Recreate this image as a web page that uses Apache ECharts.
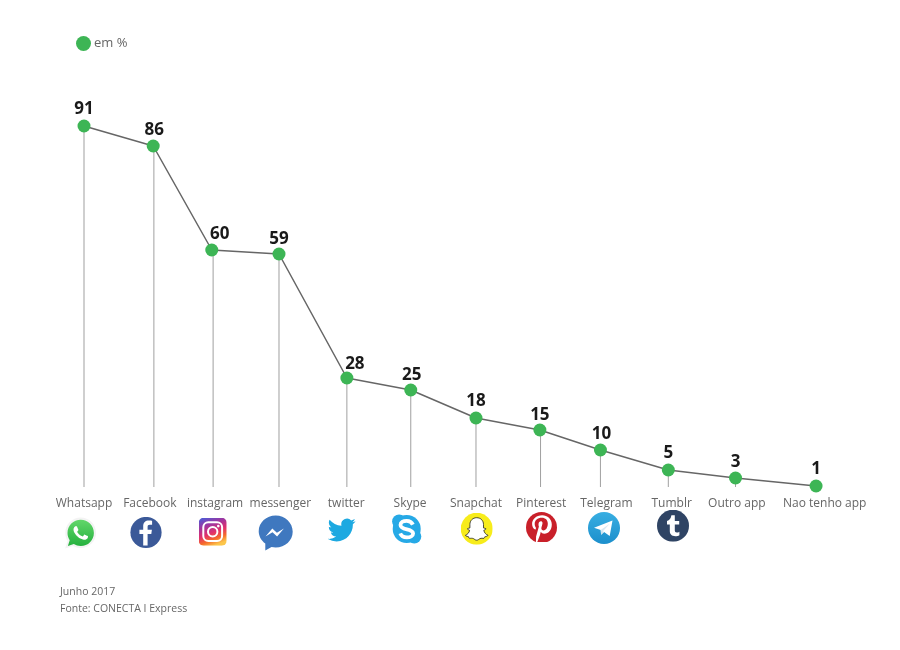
<!DOCTYPE html>
<html><head><meta charset="utf-8">
<style>html,body{margin:0;background:#fff}#c{width:900px;height:650px}</style>
<script src="https://cdn.jsdelivr.net/npm/echarts@6/dist/echarts.min.js"></script></head>
<body><div id="c"></div>
<script>
const categories=['Whatsapp','Facebook','instagram','messenger','twitter','Skype','Snapchat','Pinterest','Telegram','Tumblr','Outro app','Nao tenho app'];
const values=[91,86,60,59,28,25,18,15,10,5,3,1];
// horizontal place of each point, drop line and name, in axis units (the source is not evenly spaced)
const pointAt=[0,1.04,1.92,2.93,3.95,4.91,5.89,6.85,7.76,8.78,9.79,11];
const dropAt=[0,1.05,1.94,2.93,3.95,4.91,5.89,6.86,7.76,8.78,9.79];
const nameAt=[0,0.99,1.97,2.95,3.94,4.9,5.89,6.87,7.85,8.83,9.81,11.13];
const dropValues=values.slice(0,11);
const seriesName='em %';
const notes=['Junho 2017','Fonte: CONECTA I Express'];

const GREEN='#3db555';
const svg=(w,h,vb,body)=>'data:image/svg+xml;charset=utf-8,'+encodeURIComponent(`<svg xmlns="http://www.w3.org/2000/svg" width="${w*3}" height="${h*3}" viewBox="${vb}">${body}</svg>`);
const icons=[
 {cx:80.7,cy:533,s:36,body:`<path d="M18 2.6C9.4 2.6 2.6 9.5 2.6 18c0 3 .8 5.6 2.3 8L2.4 33.4l7.8-2.4c2.3 1.3 5 2 7.8 2 8.5 0 15.4-6.8 15.4-15.2S26.5 2.6 18 2.6z" fill="#f3f3f3"/><defs><linearGradient id="g" x1="0" y1="0" x2="0" y2="1"><stop offset="0" stop-color="#62d66a"/><stop offset="1" stop-color="#25b13e"/></linearGradient></defs><path d="M18 4.8C10.7 4.8 4.8 10.6 4.8 18c0 2.7.8 5.1 2.2 7.2L5.2 30.9l5.9-1.8c2 1.3 4.4 2 6.9 2 7.3 0 13.2-5.8 13.2-13.1S25.3 4.8 18 4.8z" fill="url(#g)"/><g transform="translate(3.6 3.6) scale(1.2)"><path d="M17.472 14.382c-.297-.149-1.758-.867-2.03-.967-.273-.099-.471-.148-.67.15-.197.297-.767.966-.94 1.164-.173.199-.347.223-.644.075-.297-.15-1.255-.463-2.39-1.475-.883-.788-1.48-1.761-1.653-2.059-.173-.297-.018-.458.13-.606.134-.133.298-.347.446-.52.149-.174.198-.298.298-.497.099-.198.05-.371-.025-.52-.075-.149-.669-1.612-.916-2.207-.242-.579-.487-.5-.669-.51-.173-.008-.371-.01-.57-.01-.198 0-.52.074-.792.372-.272.297-1.04 1.016-1.04 2.479 0 1.462 1.065 2.875 1.213 3.074.149.198 2.096 3.2 5.077 4.487.709.306 1.262.489 1.694.625.712.227 1.36.195 1.871.118.571-.085 1.758-.719 2.006-1.413.248-.694.248-1.289.173-1.413-.074-.124-.272-.198-.57-.347z" fill="#fff"/></g>`},
 {cx:146,cy:532.5,s:32,body:`<circle cx="16" cy="16" r="15.6" fill="#3b5998"/><path d="M17.6 29V17.6h3.7l.6-4.4h-4.3v-2.8c0-1.3.4-2.2 2.2-2.2h2.3V4.3c-.4-.1-1.8-.2-3.3-.2-3.3 0-5.6 2-5.6 5.7v3.4H9.4v4.4h3.8V29z" fill="#fff"/>`},
 {cx:212.7,cy:531.7,s:28,body:`<defs><linearGradient id="i" x1=".15" y1="0" x2=".55" y2="1"><stop offset="0" stop-color="#4f5bd5"/><stop offset=".3" stop-color="#a0359f"/><stop offset=".58" stop-color="#e1306c"/><stop offset=".8" stop-color="#f56a2c"/><stop offset="1" stop-color="#fcc64a"/></linearGradient></defs><rect width="28" height="28" rx="5" fill="url(#i)"/><rect x="4.6" y="4.6" width="18.8" height="18.8" rx="5" fill="none" stroke="#fff" stroke-width="2"/><circle cx="14" cy="14" r="4.7" fill="none" stroke="#fff" stroke-width="2"/><circle cx="19.6" cy="8.4" r="1.3" fill="#fff"/>`},
 {cx:275.7,cy:533,s:36,body:`<path d="M18 .6C8.6.6 1 7.6 1 16.2c0 5 2.6 9.4 6.6 12.3v6.9l6.2-3.4c1.3.3 2.7.5 4.2.5 9.4 0 17-7 17-15.8S27.4.6 18 .6z" fill="#3f78bf"/><path d="M7.8 21.6l6.8-8 4.6 4.1 7-4.2-6.8 8-4.6-4.2z" fill="#fff"/>`},
 {cx:341.7,cy:530,s:28,body:`<g transform="scale(1.167)"><path d="M23.953 4.57a10 10 0 01-2.825.775 4.958 4.958 0 002.163-2.723c-.951.555-2.005.959-3.127 1.184a4.92 4.92 0 00-8.384 4.482C7.69 8.095 4.067 6.13 1.64 3.162a4.822 4.822 0 00-.666 2.475c0 1.71.87 3.213 2.188 4.096a4.904 4.904 0 01-2.228-.616v.06a4.923 4.923 0 003.946 4.827 4.996 4.996 0 01-2.212.085 4.936 4.936 0 004.604 3.417 9.867 9.867 0 01-6.102 2.105c-.39 0-.779-.023-1.17-.067a13.995 13.995 0 007.557 2.209c9.053 0 13.998-7.496 13.998-13.985 0-.21 0-.42-.015-.63A9.935 9.935 0 0024 4.59z" fill="#1da9e1"/></g>`},
 {cx:406.7,cy:529,s:32,body:`<circle cx="16" cy="16" r="14" fill="#26a9e6"/><circle cx="8.4" cy="8.4" r="7" fill="#26a9e6"/><circle cx="23.6" cy="23.6" r="7" fill="#26a9e6"/><path d="M22.2 11.6C21 9 18.6 7.8 16 7.8c-3.6 0-6.2 1.5-6.2 4.1 0 5.6 12.6 3.2 12.6 8.5 0 2.6-3 3.9-6.2 3.9-3 0-5.6-1.2-6.6-4" fill="none" stroke="#fff" stroke-width="3.8"/>`},
 {cx:476.7,cy:528.7,s:32,body:`<circle cx="16" cy="16" r="16" fill="#f7ec1b"/><path d="M16 5c-4 0-6.8 2.9-6.8 6.8v3.4c-.8.5-2 .2-2.4.8-.3.8 1.5 1.2 2.1 1.6-.4 2.3-2.2 4.3-4.2 5 .6 1.2 2.5 1.1 3.2 1.5.3.7.2 1.4.8 1.5 1.3.1 2.7-.3 4 .3 1.1.6 2 1.6 3.3 1.6s2.2-1 3.3-1.6c1.3-.6 2.7-.2 4-.3.6-.1.5-.8.8-1.5.7-.4 2.6-.3 3.2-1.5-2-.7-3.8-2.7-4.2-5 .6-.4 2.4-.8 2.1-1.6-.4-.6-1.6-.3-2.4-.8v-3.4C22.8 7.9 20 5 16 5z" fill="#fff" stroke="#222" stroke-width=".8"/>`},
 {cx:541.5,cy:527.5,s:32,body:`<clipPath id="p"><rect width="32" height="30.6"/></clipPath><g clip-path="url(#p)"><circle cx="16" cy="16" r="15.5" fill="#c9202a"/><path d="M16.8 3.8C10.4 3.8 6.6 8 6.6 12.6c0 2.4 1.2 4.8 3.1 5.5.6.2.9-1.6.6-2.2-.6-.8-1.1-1.9-1.1-3.4 0-3.7 2.9-6.2 7-6.2 3.8 0 6.1 2.3 6.1 5.8 0 3.8-1.8 6.9-4.3 6.9-1.4 0-2.4-1.1-2.1-2.7.4-1.7 1.1-3.5 1.1-4.7 0-2.8-4-2.5-4 1.3 0 1.1.4 2 .4 2L10.6 25 10.4 31h1.2l2.9-7.4.8-3.4c.5 1 2.1 2 3.5 2 4.4 0 7.5-4.1 7.5-9.3 0-5.3-4.4-9.1-9.5-9.1z" fill="#fff"/></g>`},
 {cx:604,cy:528,s:32,body:`<defs><linearGradient id="t" x1="0" y1="0" x2="0" y2="1"><stop offset="0" stop-color="#38aee2"/><stop offset="1" stop-color="#1c8fcc"/></linearGradient></defs><circle cx="16" cy="16" r="16" fill="url(#t)"/><path d="M6 15.8L24.5 8.5 21.7 24l-5.6-4-3 2.8-.4-4.7z" fill="#fff"/><path d="M12.7 18.1l.4 4.7 3-2.8z" fill="#cfe3ee"/><path d="M12.7 18.1l9-6.3-7 7.6z" fill="#d9e8f2"/>`},
 {cx:673,cy:525.7,s:32,body:`<circle cx="16" cy="16" r="16" fill="#2f4464"/><path d="M17.8 5.6h-3.4c-.3 3-2 5-4.4 5.8v3.4h2.8v6.6c0 3.2 2 5.2 5.6 5.2 1.5 0 3-.4 4-1v-3.6c-.9.6-1.7.9-2.6.9-1.3 0-2-.7-2-2v-6.1h4.4v-3.6h-4.4z" fill="#fff"/>`}
];

const labelNudge={1:[1,1],2:[8,1],3:[0,2],4:[8,3],5:[1,2],7:[0,2],8:[1,1],10:[0,1]};
const chart=echarts.init(document.getElementById('c'),null,{renderer:'canvas'});
const FONT='"Open Sans"';
chart.setOption({
 animation:false,
 backgroundColor:'#fff',
 grid:{left:70.69,right:70.64,top:90,bottom:163},
 legend:{left:71,top:31,icon:'circle',itemWidth:15,itemHeight:15,itemGap:0,data:[seriesName],
  textStyle:{fontFamily:FONT,fontSize:13,color:'#666',padding:[5,0,0,-2]},selectedMode:false},
 xAxis:{type:'value',min:-0.2,max:11.2,splitLine:{show:false},axisLine:{show:false},axisTick:{show:false},
  axisLabel:{customValues:nameAt,margin:11,fontFamily:FONT,fontSize:12,color:'#666',
   formatter:(v,i)=>categories[nameAt.indexOf(v)]}},
 yAxis:{type:'value',min:0.75,max:100,show:false,splitLine:{show:false}},
 series:[
  {type:'bar',name:'drop',barWidth:1,silent:true,itemStyle:{color:'#a0a0a0'},z:1,
   data:dropValues.map((v,i)=>[dropAt[i],v])},
  {type:'line',name:seriesName,clip:false,symbol:'circle',symbolSize:13,z:3,
   lineStyle:{color:'#666',width:1.5},itemStyle:{color:GREEN},
   label:{show:true,position:'top',distance:2,fontFamily:FONT,fontWeight:700,fontSize:17,color:'#1a1a1a',textBorderWidth:0},
   data:values.map((v,i)=>({value:[pointAt[i],v],label:{formatter:String(v),offset:labelNudge[i]||[0,0]}}))}
 ],
 graphic:[
  ...icons.map(o=>({type:'image',x:o.cx-o.s/2,y:o.cy-o.s/2,silent:true,
    style:{image:svg(o.s,o.s,`0 0 ${o.s} ${o.s}`,o.body),width:o.s,height:o.s}})),
  ...notes.map((t,i)=>({type:'text',x:60,y:587+17*i,silent:true,
    style:{text:t,fontFamily:FONT,fontSize:10.5,fill:'#666'}}))
 ]
});
</script></body></html>
